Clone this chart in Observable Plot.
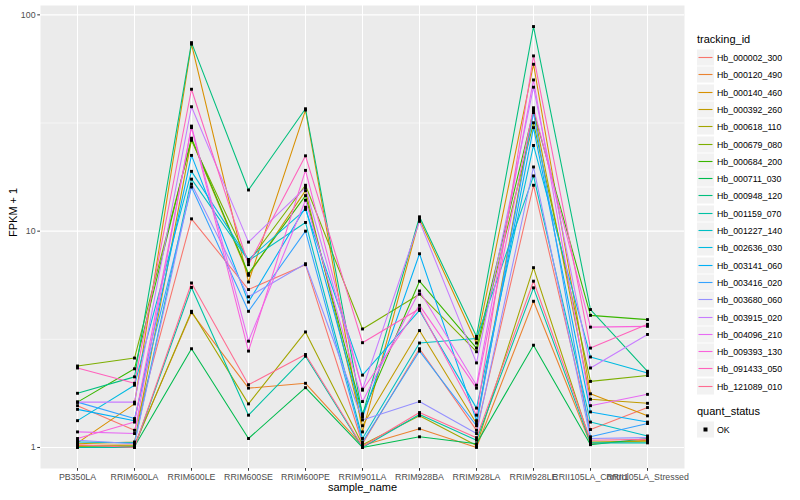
<!DOCTYPE html>
<html><head><meta charset="utf-8">
<script src="https://cdn.jsdelivr.net/npm/d3@7"></script>
<script src="https://cdn.jsdelivr.net/npm/@observablehq/plot@0.6"></script>
<style>
body{margin:0;background:#fff;font-family:"Liberation Sans",Arial,sans-serif;}
#wrap{position:relative;width:800px;height:500px;overflow:hidden;}
#chart{position:absolute;left:0;top:0;}
#legend{position:absolute;left:697px;top:0;width:103px;color:#000;}
.ltitle{position:absolute;left:0;font-size:11px;white-space:nowrap;}
.row{position:absolute;left:0;height:17px;display:flex;align-items:center;white-space:nowrap;}
.row svg{display:block;margin-right:3px;}
.lab{font-size:8.8px;}
</style>
</head><body>
<div id="wrap"><div id="chart"></div><div id="legend"></div></div>
<script>
const samples = ["PB350LA","RRIM600LA","RRIM600LE","RRIM600SE","RRIM600PE","RRIM901LA","RRIM928BA","RRIM928LA","RRIM928LE","RRII105LA_Control","RRII105LA_Stressed"];
const trackingIds = ["Hb_000002_300","Hb_000120_490","Hb_000140_460","Hb_000392_260","Hb_000618_110","Hb_000679_080","Hb_000684_200","Hb_000711_030","Hb_000948_120","Hb_001159_070","Hb_001227_140","Hb_002636_030","Hb_003141_060","Hb_003416_020","Hb_003680_060","Hb_003915_020","Hb_004096_210","Hb_009393_130","Hb_091433_050","Hb_121089_010"];
const colors = ["#F8766D","#EA8331","#D89000","#C09B00","#A3A500","#7CAE00","#39B600","#00BB4E","#00BF7D","#00C1A3","#00BFC4","#00BAE0","#00B0F6","#35A2FF","#9590FF","#C77CFF","#E76BF3","#FA62DB","#FF62BC","#FF6C91"];

// FPKM + 1 per tracking_id, in sample order
const Hb_000002_300 = [1.56, 1.20, 11.4, 5.37, 7.0, 1.04, 2.86, 1.20, 16.3, 1.21, 1.53];
const Hb_000120_490 = [1.02, 1.03, 4.2, 1.88, 1.98, 1.02, 1.22, 1.0, 4.74, 1.04, 1.08];
const Hb_000140_460 = [1.05, 1.59, 73.2, 5.82, 36.3, 1.18, 11.36, 3.04, 59.1, 1.77, 1.40];
const Hb_000392_260 = [1.04, 1.06, 26.5, 6.25, 15.4, 1.26, 3.47, 1.29, 36.6, 1.67, 1.60];
const Hb_000618_110 = [1.01, 1.02, 4.26, 1.59, 3.42, 1.03, 1.40, 1.02, 6.78, 1.06, 1.07];
const Hb_000679_080 = [2.38, 2.59, 26.3, 7.2, 16.3, 3.53, 5.11, 2.77, 31.7, 2.02, 2.15];
const Hb_000684_200 = [1.62, 2.31, 26.9, 6.36, 14.6, 1.43, 5.87, 2.88, 36.0, 4.08, 3.9];
const Hb_000711_030 = [1.0, 1.01, 2.86, 1.10, 1.89, 1.0, 1.12, 1.04, 2.97, 1.03, 1.10];
const Hb_000948_120 = [1.78, 2.12, 74.4, 15.5, 36.8, 1.41, 11.65, 3.26, 88.3, 4.34, 2.25];
const Hb_001159_070 = [1.0, 1.0, 5.49, 1.41, 2.64, 1.0, 1.42, 1.08, 5.47, 1.05, 1.05];
const Hb_001227_140 = [1.06, 1.05, 17.4, 7.3, 10.97, 1.10, 3.04, 3.19, 18.0, 1.31, 1.13];
const Hb_002636_030 = [1.33, 1.94, 18.9, 7.4, 12.6, 2.16, 4.30, 1.52, 24.9, 2.62, 2.21];
const Hb_003141_060 = [1.50, 1.33, 22.4, 4.7, 12.9, 1.38, 7.86, 1.33, 30.1, 1.46, 1.31];
const Hb_003416_020 = [1.62, 1.36, 16.0, 4.26, 10.0, 1.06, 2.79, 1.26, 35.3, 1.12, 1.29];
const Hb_003680_060 = [1.08, 1.04, 16.5, 4.97, 7.07, 1.34, 1.63, 1.16, 19.8, 1.10, 1.11];
const Hb_003915_020 = [1.62, 1.62, 37.6, 8.9, 15.9, 1.86, 11.1, 2.46, 46.3, 2.33, 3.33];
const Hb_004096_210 = [1.18, 1.16, 30.6, 3.1, 13.9, 1.63, 5.29, 1.94, 50.0, 1.56, 1.76];
const Hb_009393_130 = [1.10, 1.31, 30.1, 2.79, 19.1, 1.84, 4.54, 1.88, 37.2, 3.6, 3.63];
const Hb_091433_050 = [2.33, 1.98, 45.3, 7.0, 22.3, 3.05, 4.38, 1.41, 64.6, 2.88, 3.71];
const Hb_121089_010 = [1.03, 1.0, 5.76, 1.95, 2.69, 1.01, 1.45, 1.11, 5.87, 1.08, 1.09];

const series = [Hb_000002_300,Hb_000120_490,Hb_000140_460,Hb_000392_260,Hb_000618_110,Hb_000679_080,Hb_000684_200,Hb_000711_030,Hb_000948_120,Hb_001159_070,Hb_001227_140,Hb_002636_030,Hb_003141_060,Hb_003416_020,Hb_003680_060,Hb_003915_020,Hb_004096_210,Hb_009393_130,Hb_091433_050,Hb_121089_010];
const majorBreaks = [1, 10, 100];
const minorBreaks = [Math.sqrt(10), Math.sqrt(1000)];

const rows = [];
series.forEach((vals, i) => vals.forEach((v, j) => rows.push({id: trackingIds[i], sample: samples[j], fpkm: v, status: "OK"})));

const lo = Math.log10(d3.min(rows, d => d.fpkm)), hi = Math.log10(d3.max(rows, d => d.fpkm));
const pad = (hi - lo) * 0.05;

const chart = Plot.plot({
  width: 690, height: 500,
  marginLeft: 40, marginRight: 6, marginTop: 5, marginBottom: 32,
  style: {fontFamily: "'Liberation Sans', Arial, sans-serif", fontSize: "8.8px", background: "white", color: "#4D4D4D"},
  x: {type: "point", domain: samples, padding: 0.6, label: null},
  y: {type: "log", domain: [10 ** (lo - pad), 10 ** (hi + pad)], label: null},
  color: {domain: trackingIds, range: colors},
  marks: [
    Plot.frame({fill: "#EBEBEB", stroke: "none"}),
    Plot.ruleY(minorBreaks, {stroke: "white", strokeWidth: 0.55}),
    Plot.ruleY(majorBreaks, {stroke: "white", strokeWidth: 1.07}),
    Plot.ruleX(samples, {stroke: "white", strokeWidth: 1.07}),
    Plot.line(rows, {x: "sample", y: "fpkm", z: "id", stroke: "id", strokeWidth: 1.07}),
    Plot.dot(rows, {x: "sample", y: "fpkm", symbol: "square", r: 1.65, fill: "black", stroke: "none"}),
    Plot.axisX({tickSize: 2.75, tickPadding: 2.5, stroke: "#333333", fill: "#4D4D4D", fontSize: 8.8, label: null}),
    Plot.axisY({ticks: majorBreaks, tickFormat: d => String(d), tickSize: 2.75, tickPadding: 2.2, stroke: "#333333", fill: "#4D4D4D", fontSize: 8.8, label: null}),
    Plot.text(["sample_name"], {frameAnchor: "bottom", dy: 22, fontSize: 11, fill: "black"}),
    Plot.text(["FPKM + 1"], {frameAnchor: "left", dx: -27, rotate: -90, fontSize: 11, fill: "black"})
  ]
});
document.getElementById("chart").appendChild(chart);

// legend
const lg = document.getElementById("legend");
const t1 = document.createElement("div"); t1.className = "ltitle"; t1.style.top = "33px"; t1.textContent = "tracking_id"; lg.appendChild(t1);
trackingIds.forEach((id, i) => {
  const r = document.createElement("div"); r.className = "row"; r.style.top = Math.round(49 + i * 17.3) + "px";
  r.innerHTML = `<svg width="17" height="17"><rect x="0" y="0.5" width="17" height="16" fill="#F2F2F2"/><line x1="1.5" x2="15.5" y1="8.5" y2="8.5" stroke="${colors[i]}" stroke-width="1.1"/></svg><span class="lab">${id}</span>`;
  lg.appendChild(r);
});
const t2 = document.createElement("div"); t2.className = "ltitle"; t2.style.top = "405px"; t2.textContent = "quant_status"; lg.appendChild(t2);
const r2 = document.createElement("div"); r2.className = "row"; r2.style.top = "421px";
r2.innerHTML = `<svg width="17" height="17"><rect x="0" y="0.5" width="17" height="16" fill="#F2F2F2"/><rect x="6.5" y="6.5" width="4" height="4" fill="#000"/></svg><span class="lab">OK</span>`;
lg.appendChild(r2);
</script>
</body></html>
